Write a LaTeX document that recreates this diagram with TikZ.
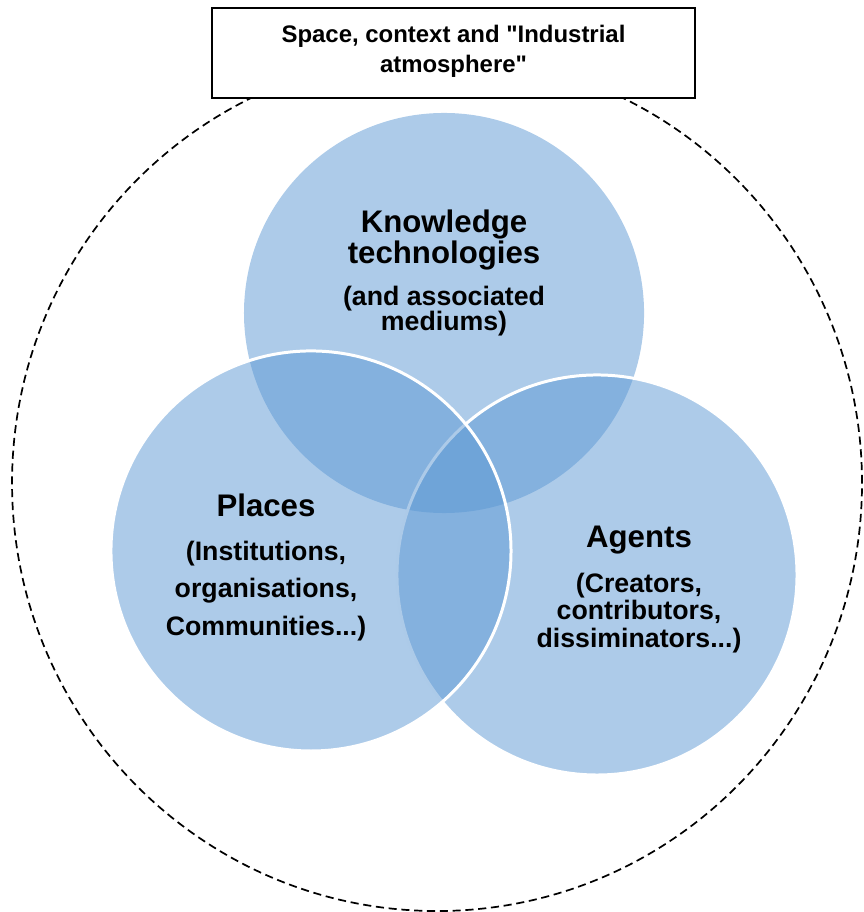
\documentclass[tikz,border=0pt]{standalone}
\usepackage{fontspec}
\setmainfont{Liberation Sans}
\usepackage{tikz}
\usetikzlibrary{shapes,positioning}
\usepackage{xcolor}

\definecolor{setblue}{RGB}{91,151,211}

\tikzset{
  venn/.style={circle, fill=setblue, fill opacity=0.5, minimum size=6.58cm, inner sep=0pt},
  rim/.style={draw=white, line width=1.4pt},
  settitle/.style={align=center, inner sep=0pt, font=\bfseries\fontsize{14.6}{14.6}\selectfont},
  setsub/.style={align=center, inner sep=0pt, font=\bfseries\fontsize{12.5}{12}\selectfont},
}

\begin{document}
\begin{tikzpicture}
            \useasboundingbox (0,0) rectangle (14.21,15.0);

            % Surrounding context
            \draw[line width=0.8pt, dash pattern=on 3.8pt off 2.2pt] (7.188,7.056) ellipse (6.99 and 7.04);
            \node[draw, fill=white, line width=0.8pt, minimum width=7.944cm, minimum height=1.48cm] (frame) at (7.459,14.128) {};
            \node[align=center, inner sep=0pt, font=\bfseries\fontsize{11.2}{14}\selectfont] (context) at (7.459,14.16)
                {Space, context and \textquotedbl Industrial\\atmosphere\textquotedbl};

            % The three sets
            \node[venn] (know) at (7.303,9.852) {};
            \node[venn, rim] (agents) at (9.819,5.543) {};
            \node[venn, rim] (places) at (5.115,5.938) {};

            % Labels
            \node[settitle] (knowtitle) at (7.303,11.053) {Knowledge\\technologies};
            \node[setsub] (knowsub) at (7.303,9.885) {(and associated\\mediums)};

            \node[settitle, anchor=base] (placestitle) at (4.375,6.502) {Places};
            \node[setsub, font=\bfseries\fontsize{12.5}{17.6}\selectfont] (placessub) at (4.375,5.280)
                {(Institutions,\\organisations,\\Communities...)};

            \node[settitle, anchor=base] (agentstitle) at (10.510,6.003) {Agents};
            \node[setsub, font=\bfseries\fontsize{12.5}{12.7}\selectfont] (agentssub) at (10.510,4.918)
                {(Creators,\\contributors,\\dissiminators...)};
\end{tikzpicture}
\end{document}
